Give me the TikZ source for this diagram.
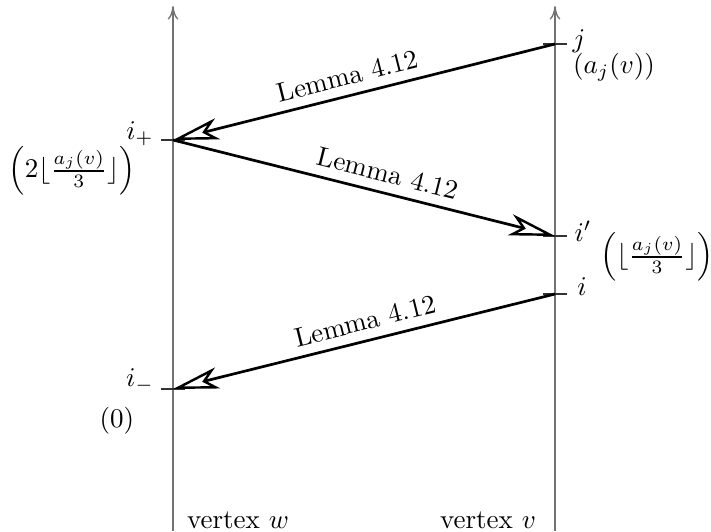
\documentclass[tikz,border=0pt]{standalone}
\usetikzlibrary{arrows.meta}
\tikzset{
  axis/.style={draw=black!55, line width=0.5pt, -{To[length=5pt,width=4pt]}},
  tick/.style={draw=black!80, line width=0.5pt},
  lemma/.style={line width=1pt, -{Stealth[length=17pt,width=8pt,inset=4.5pt,fill=white,line width=0.9pt]}},
}
\begin{document}
\begin{tikzpicture}[x=0.013cm,y=-0.013cm]
    \useasboundingbox (0,0) rectangle (711,531);

    % vertical lines
    \coordinate (wbot) at (173,531);
    \coordinate (wtop) at (173,6);
    \coordinate (vbot) at (555,531);
    \coordinate (vtop) at (555,6);
    \draw[axis] (wbot) -- (wtop);
    \draw[axis] (vbot) -- (vtop);

    % marked points
    \coordinate (j) at (555,44);
    \coordinate (iplus) at (173,140);
    \coordinate (iprime) at (555,236);
    \coordinate (i) at (555,294);
    \coordinate (iminus) at (173,389);
    \foreach \p in {j,iplus,iprime,i,iminus}
        \draw[tick] ([xshift=-0.15cm]\p) -- ([xshift=0.15cm]\p);

    % lemma arrows
    \draw[lemma] (j) -- node[sloped, above, pos=0.53] {Lemma 4.12} (iplus);
    \draw[lemma] (iplus) -- node[sloped, above, pos=0.55] {Lemma 4.12} (iprime);
    \draw[lemma] (i) -- node[sloped, above, pos=0.485] {Lemma 4.12} (iminus);

    % labels
    \node (lj) at (579,41) {$j$};
    \node (laj) at (614,67) {$(a_j(v))$};
    \node (lip) at (140,134) {$i_+$};
    \node (lipv) at (72,171) {$\Bigl(2\lfloor\frac{a_j(v)}{3}\rfloor\Bigr)$};
    \node (lipr) at (583,231) {$i'$};
    \node (liprv) at (657,257) {$\Bigl(\lfloor\frac{a_j(v)}{3}\rfloor\Bigr)$};
    \node (li) at (582,287) {$i$};
    \node (lim) at (140,381) {$i_-$};
    \node (limv) at (117,421) {$(0)$};
    \node (lw) at (238,520) {vertex $w$};
    \node (lv) at (488,520) {vertex $v$};
\end{tikzpicture}
\end{document}
